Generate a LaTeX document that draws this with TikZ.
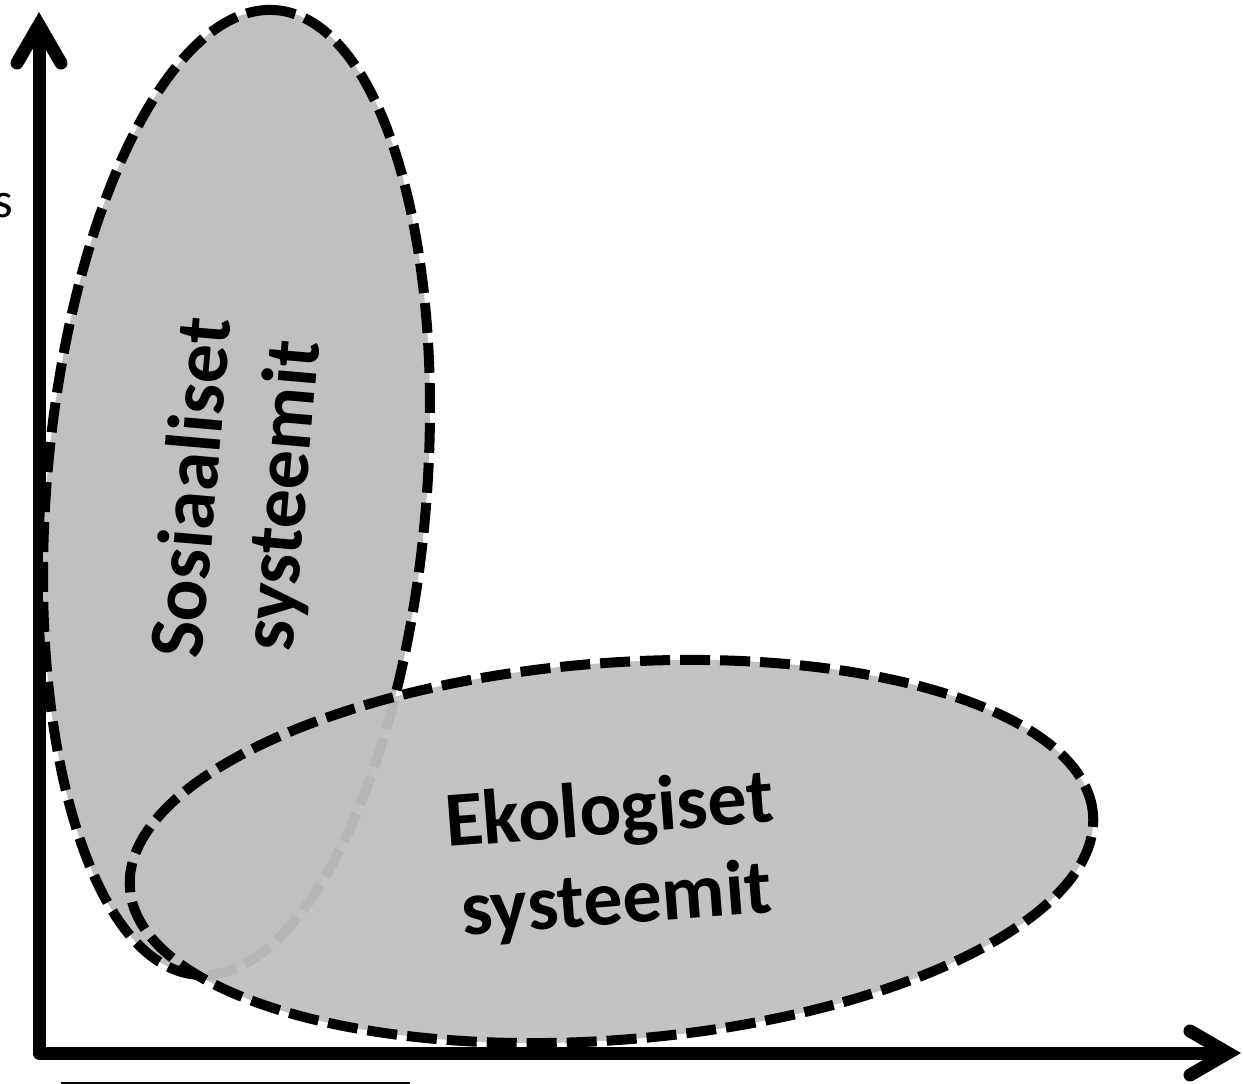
\documentclass[tikz,border=0pt]{standalone}
\usepackage{fontspec}
\setmainfont{Carlito}
\definecolor{shade}{HTML}{C0C0C0}
\begin{document}
\begin{tikzpicture}[x=1pt,y=-1pt,
  axisline/.style={line width=13pt, line cap=butt, line join=round},
  barb/.style={line width=13pt, line cap=round, line join=miter},
  blob/.style={fill=shade, draw=black, line width=10pt, dash pattern=on 30pt off 10pt},
  lbl/.style={font=\bfseries\fontsize{78}{90}\selectfont, align=center, inner sep=0pt}]
\useasboundingbox (0,0) rectangle (1243,1084);
% axes
\coordinate (origin) at (39,1053);
\coordinate (ytop) at (39,30);
\coordinate (xend) at (1223,1053);
\draw[axisline] (ytop) -- (origin) -- (xend);
\draw[barb] (17,63) -- (39,25) -- (61,63);
\draw[barb] (1190,1031) -- (1228,1053) -- (1190,1075);
% social ellipse
\draw[blob, rotate around={85.3:(236.5,492.5)}] (236.5,492.5) ellipse [x radius=484pt, y radius=190pt];
% ecological ellipse
\draw[blob, fill opacity=0.95, rotate around={4.4:(611.5,851.5)}] (611.5,851.5) ellipse [x radius=483pt, y radius=188.5pt];
% labels
\node[lbl, rotate=85] (soc) at (240,492) {Sosiaaliset\\systeemit};
\node[lbl, rotate=4.4] (eco) at (613,858) {Ekologiset\\systeemit};
\node[font=\fontsize{50}{60}\selectfont, anchor=base east, inner sep=0pt] (s) at (13,217) {s};
\draw[line width=2pt] (61,1083) -- (410,1083);
\end{tikzpicture}
\end{document}
